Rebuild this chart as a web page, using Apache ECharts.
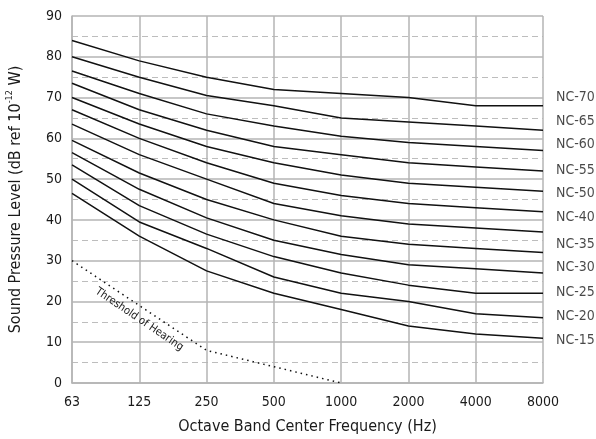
<html>

<head>
  <script src="https://cdn.jsdelivr.net/npm/echarts@6/dist/echarts.min.js"></script>
</head>

<body style="margin:0">
  <div id="main" style="width: 596px;height:439px;"></div>
  <script>
    var frequencies = ['63', '125', '250', '500', '1000', '2000', '4000', '8000'];

    var nc70 = [84, 79, 75, 72, 71, 70, 68, 68];
    var nc65 = [80, 75, 70.5, 68, 65, 64, 63, 62];
    var nc60 = [76.5, 71, 66, 63, 60.5, 59, 58, 57];
    var nc55 = [73.5, 67, 62, 58, 56, 54, 53, 52];
    var nc50 = [70, 63.5, 58, 54, 51, 49, 48, 47];
    var nc45 = [67, 60, 54, 49, 46, 44, 43, 42];
    var nc40 = [63.5, 56, 50, 44, 41, 39, 38, 37];
    var nc35 = [59.5, 51.5, 45, 40, 36, 34, 33, 32];
    var nc30 = [56.5, 47.5, 40.5, 35, 31.5, 29, 28, 27];
    var nc25 = [53.5, 43.5, 36.5, 31, 27, 24, 22, 22];
    var nc20 = [50, 39.5, 33, 26, 22, 20, 17, 16];
    var nc15 = [46.5, 36, 27.5, 22, 18, 14, 12, 11];

    // threshold of hearing stops at 1000 Hz
    var threshold = [30, 19, 8, 4, 0];

    // curve names printed at the right edge, and the level each one sits at
    var labelNames = ['NC-70', 'NC-65', 'NC-60', 'NC-55', 'NC-50', 'NC-40', 'NC-35', 'NC-30', 'NC-25', 'NC-20', 'NC-15'];
    var labelLevels = [70, 64.1, 58.4, 52.2, 46.6, 40.5, 34, 28.3, 22.2, 16.4, 10.5];

    var fontName = "'Liberation Sans Narrow', 'DejaVu Sans Condensed', Roboto, sans-serif";
    var myChart = echarts.init(document.getElementById('main'));

    const curves = [nc70, nc65, nc60, nc55, nc50, nc45, nc40, nc35, nc30, nc25, nc20, nc15];
    const seriesList = curves.map(function (d) {
      return {
        type: 'line',
        data: d,
        symbol: 'none',
        silent: true,
        lineStyle: { color: '#111', width: 1.5 }
      };
    });

    seriesList.push({
      type: 'line',
      data: threshold,
      symbol: 'none',
      silent: true,
      lineStyle: { color: '#111', width: 1.5, type: [1.5, 4] }
    });

    seriesList.push({
      type: 'scatter',
      symbolSize: 2,
      itemStyle: { color: 'rgba(0,0,0,0)' },
      clip: false,
      silent: true,
      data: labelNames.map(function (n, i) {
        return { name: n, value: [7, labelLevels[i]] };
      }),
      label: {
        show: true,
        position: 'right',
        distance: 12,
        formatter: '{b}',
        color: '#1a1a1a',
        fontFamily: fontName,
        fontSize: 14
      }
    });

    option = {
      animation: false,
      grid: {
        left: 72,
        right: 53,
        top: 16,
        bottom: 56,
        outerBoundsMode: 'none'
      },
      xAxis: {
        type: 'category',
        data: frequencies,
        boundaryGap: false,
        name: 'Octave Band Center Frequency (Hz)',
        nameLocation: 'middle',
        nameGap: 30,
        nameMoveOverlap: false,
        nameTextStyle: { fontFamily: fontName, fontSize: 16, color: '#1a1a1a' },
        axisLine: { lineStyle: { color: '#b4b4b4', width: 1.5 } },
        axisTick: { show: false },
        axisLabel: { fontFamily: fontName, fontSize: 14, color: '#1a1a1a', margin: 7 },
        splitLine: { show: true, lineStyle: { color: '#b4b4b4', width: 1.5 } }
      },
      yAxis: {
        type: 'value',
        min: 0,
        max: 90,
        interval: 10,
        name: 'Sound Pressure Level (dB ref 10{sup|-12} W)',
        nameLocation: 'middle',
        nameGap: 42,
        nameMoveOverlap: false,
        nameTextStyle: {
          fontFamily: fontName, fontSize: 16, color: '#1a1a1a',
          rich: { sup: { fontFamily: fontName, fontSize: 9, verticalAlign: 'top', padding: [0, 0, 8, 0] } }
        },
        axisLine: { show: true, lineStyle: { color: '#b4b4b4', width: 1.5 } },
        axisTick: { show: false },
        axisLabel: { fontFamily: fontName, fontSize: 14, color: '#1a1a1a', margin: 10 },
        splitLine: { lineStyle: { color: '#b4b4b4', width: 1.5 } },
        minorTick: { show: false, splitNumber: 2 },
        minorSplitLine: { show: true, lineStyle: { color: '#bdbdbd', width: 1.2, type: [6, 4] } }
      },
      series: seriesList
    };

    myChart.setOption(option);

    // place the threshold caption along the dotted curve
    const p = myChart.convertToPixel({ xAxisIndex: 0, yAxisIndex: 0 }, [0.9, 15.6]);
    myChart.setOption({
      graphic: [{
        type: 'text',
        x: p[0],
        y: p[1],
        rotation: -34 * Math.PI / 180,
        silent: true,
        style: {
          text: 'Threshold of Hearing',
          fontFamily: fontName,
          fontSize: 11,
          fill: '#1a1a1a',
          align: 'center',
          verticalAlign: 'middle'
        }
      }]
    });

  </script>
</body>

</html>
